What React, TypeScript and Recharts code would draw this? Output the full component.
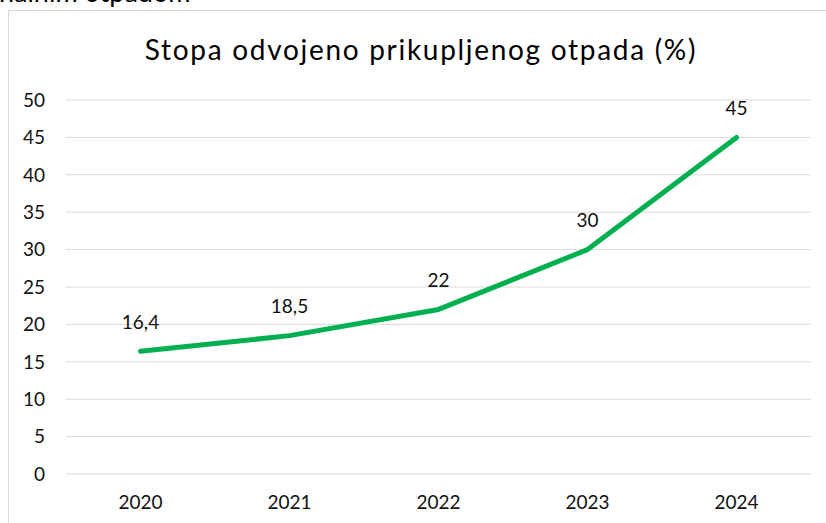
import React from "react";
import { LineChart, Line, XAxis, YAxis, CartesianGrid, LabelList } from "recharts";

const years = ["2020", "2021", "2022", "2023", "2024"];
const rates = [16.4, 18.5, 22, 30, 45];
const yTicks = [0, 5, 10, 15, 20, 25, 30, 35, 40, 45, 50];
const titleText = "Stopa odvojeno prikupljenog otpada (%)";
const fragmentText = "nalnim otpadom";

const data = years.map((y, i) => ({ year: y, rate: rates[i] }));

const FONT = "Lato, 'Open Sans', sans-serif";

const fmt = (v: number) => String(v).replace(".", ",");

const DataLabel = (props: any) => {
  const { x, y, value } = props;
  return (
    <text x={x} y={y - 30} textAnchor="middle" dominantBaseline="central" fontFamily={FONT} fontSize={19} fill="#111">
      {fmt(value)}
    </text>
  );
};

export default function App() {
  return (
    <div style={{ position: "absolute", left: 0, top: 0, width: 826, height: 523, overflow: "hidden", background: "#fff" }}>
      <div style={{ position: "absolute", left: -1, top: -22, fontFamily: FONT, fontSize: 27, color: "#000", lineHeight: "27px", whiteSpace: "nowrap" }}>
        {fragmentText}
      </div>
      <div style={{ position: "absolute", left: 8, top: 10, width: 840, height: 540, border: "1px solid #d9d9d9", boxSizing: "border-box" }} />
      <div style={{ position: "absolute", left: 0, width: 826, textAlign: "center", fontFamily: FONT, fontSize: 28, letterSpacing: 1.7, color: "#000", top: 32, lineHeight: "34px", paddingLeft: 16, boxSizing: "border-box", whiteSpace: "nowrap" }}>
        {titleText}
      </div>
      <div style={{ position: "absolute", left: 0, top: 0 }}>
        <LineChart width={826} height={523} data={data} margin={{ top: 100, right: 15, bottom: 19, left: 8 }}>
          <CartesianGrid horizontal={true} vertical={false} stroke="#d9d9d9" strokeWidth={1} />
          <XAxis
            dataKey="year"
            axisLine={false}
            tickLine={false}
            tickSize={0}
            tickMargin={22}
            height={30}
            padding={{ left: 74.5, right: 74.5 }}
            tick={{ fontFamily: FONT, fontSize: 19, fill: "#111" }}
            interval={0}
          />
          <YAxis
            type="number"
            domain={[0, 50]}
            ticks={yTicks}
            axisLine={false}
            tickLine={false}
            tickSize={0}
            tickMargin={21}
            width={58}
            interval={0}
            tick={{ fontFamily: FONT, fontSize: 19, fill: "#111" }}
          />
          <Line
            type="linear"
            dataKey="rate"
            stroke="#00b050"
            strokeWidth={5}
            strokeLinecap="round"
            strokeLinejoin="round"
            dot={false}
            activeDot={false}
            isAnimationActive={false}
          >
            <LabelList dataKey="rate" content={<DataLabel />} />
          </Line>
        </LineChart>
      </div>
    </div>
  );
}
